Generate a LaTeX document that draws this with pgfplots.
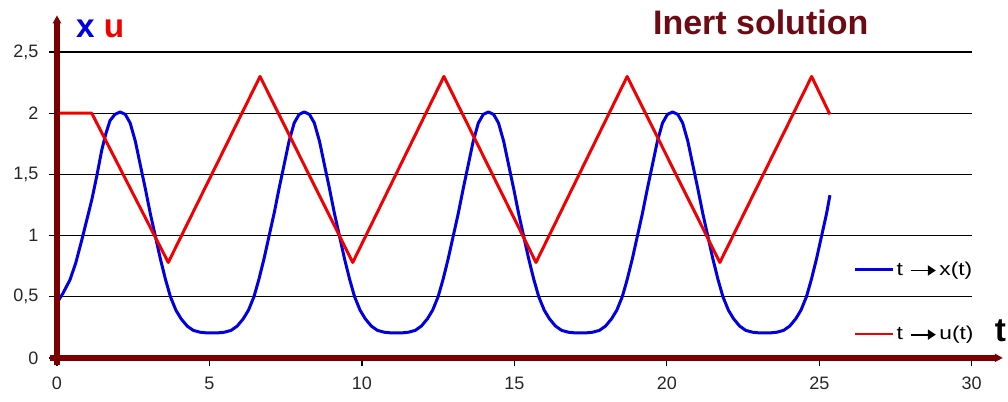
\documentclass[border=0pt]{standalone}
\usepackage{fontspec}
\setmainfont{Liberation Sans}
\newfontfamily\legfont[FakeStretch=1.22]{Liberation Sans}
\usepackage{pgfplots}
\usepackage{pgfplotstable}
\pgfplotsset{compat=1.18}
\usetikzlibrary{arrows.meta}
\definecolor{axred}{HTML}{7A0000}
\definecolor{titlered}{HTML}{6E0A14}
\definecolor{cblue}{HTML}{0000E0}
\definecolor{cred}{HTML}{F00000}
\newcommand\arr{\tikz[baseline=-3.75pt]\draw[black, line width=1.3pt,-{Triangle[length=6pt,width=7.5pt]}] (0,0)--(19pt,0);}

\pgfplotstableread{
t x
0 0.45
0.2 0.53
0.43 0.64
0.62 0.78
0.81 0.96
1.0 1.15
1.14 1.29
1.3 1.48
1.47 1.70
1.6 1.83
1.74 1.94
1.9 1.99
2.07 2.01
2.24 1.99
2.40 1.92
2.57 1.77
2.73 1.58
2.90 1.38
3.06 1.18
3.23 0.99
3.39 0.81
3.56 0.64
3.72 0.50
3.90 0.39
4.07 0.32
4.27 0.26
4.47 0.225
4.69 0.21
4.89 0.205
5.09 0.205
5.29 0.205
5.49 0.21
5.71 0.225
5.91 0.26
6.11 0.32
6.28 0.39
6.46 0.50
6.62 0.64
6.79 0.81
6.95 0.99
7.12 1.18
7.28 1.38
7.45 1.58
7.61 1.77
7.78 1.92
7.94 1.99
8.11 2.01
8.28 1.99
8.44 1.92
8.61 1.77
8.77 1.58
8.94 1.38
9.10 1.18
9.27 0.99
9.43 0.81
9.60 0.64
9.76 0.50
9.94 0.39
10.11 0.32
10.31 0.26
10.51 0.225
10.73 0.21
10.93 0.205
11.13 0.205
11.33 0.205
11.53 0.21
11.75 0.225
11.95 0.26
12.15 0.32
12.32 0.39
12.50 0.50
12.66 0.64
12.83 0.81
12.99 0.99
13.16 1.18
13.32 1.38
13.49 1.58
13.65 1.77
13.82 1.92
13.98 1.99
14.15 2.01
14.32 1.99
14.48 1.92
14.65 1.77
14.81 1.58
14.98 1.38
15.14 1.18
15.31 0.99
15.47 0.81
15.64 0.64
15.80 0.50
15.98 0.39
16.15 0.32
16.35 0.26
16.55 0.225
16.77 0.21
16.97 0.205
17.17 0.205
17.37 0.205
17.57 0.21
17.79 0.225
17.99 0.26
18.19 0.32
18.36 0.39
18.54 0.50
18.70 0.64
18.87 0.81
19.03 0.99
19.20 1.18
19.36 1.38
19.53 1.58
19.69 1.77
19.86 1.92
20.02 1.99
20.19 2.01
20.36 1.99
20.52 1.92
20.69 1.77
20.85 1.58
21.02 1.38
21.18 1.18
21.35 0.99
21.51 0.81
21.68 0.64
21.84 0.50
22.02 0.39
22.19 0.32
22.39 0.26
22.59 0.225
22.81 0.21
23.01 0.205
23.21 0.205
23.41 0.205
23.61 0.21
23.83 0.225
24.03 0.26
24.23 0.32
24.40 0.39
24.58 0.50
24.74 0.64
24.91 0.81
25.07 0.99
25.24 1.18
25.35 1.33
}\xdata

\pgfplotstableread{
t u
0 2.0
1.14 2.0
3.65 0.78
6.66 2.30
9.70 0.78
12.69 2.30
15.71 0.78
18.70 2.30
21.74 0.78
24.75 2.30
25.35 1.99
}\udata

\begin{document}
\begin{tikzpicture}
\begin{axis}[
  scale only axis, width=686.25pt, height=229.5pt,
  xmin=0, xmax=30, ymin=0, ymax=2.5,
  axis line style={draw=none},
  xtick={0,5,10,15,20,25,30},
  xticklabels={0,5,10,15,20,25,30},
  ytick={0,0.5,1,1.5,2,2.5},
  yticklabels={0,{0,5},1,{1,5},2,{2,5}},
  tick pos=left,
  tick align=outside,
  major tick length=6pt,
  ymajorgrids,
  grid style={black, line width=1pt},
  tick style={black, line width=1pt},
  tick label style={font=\fontsize{13.5}{16}\selectfont, text=black!85},
  xticklabel style={yshift=-5pt},
  yticklabel style={xshift=-4.5pt},
  clip=false,
  legend style={at={(axis cs:26.0,0.83)}, anchor=north west, draw=none, fill=none,
    font=\legfont\fontsize{14}{17}\selectfont, row sep=32.5pt, legend cell align=left},
  legend image code/.code={\draw[#1, line width=2pt] (0pt,0pt) -- (28pt,0pt);},
]
\addplot[cblue, line width=2.25pt, line join=round] table[x=t, y=x] {\xdata};
\addlegendentry{t\hspace{5pt}\arr\hspace{2pt}x(t)}
\addplot[cred, line width=2.25pt, line join=round] table[x=t, y=u] {\udata};
\addlegendentry{t\hspace{5pt}\arr\hspace{2pt}u(t)}

\draw[axred, line width=4pt, -{Triangle[length=6pt, width=6pt]}] (axis cs:-0.23,0) -- (axis cs:31.02,0);
\draw[axred, line width=4pt, -{Triangle[length=6pt, width=6pt]}] (axis cs:0,-0.06) -- (axis cs:0,2.80);

\node[anchor=base west, inner sep=0pt, font=\fontsize{25.5}{30}\selectfont\bfseries, text=titlered] at (axis cs:19.54,2.64) {Inert solution};
\node[anchor=base west, inner sep=0pt, font=\fontsize{25}{30}\selectfont\bfseries] at (axis cs:0.62,2.62) {\textcolor{cblue}{x} \textcolor{cred}{u}};
\node[anchor=base west, inner sep=0pt, font=\fontsize{25}{30}\selectfont\bfseries] at (axis cs:30.75,0.13) {t};

\coordinate (bl) at (axis cs:-1.869,-0.359);
\coordinate (tr) at (axis cs:31.19,2.925);
\end{axis}
\pgfresetboundingbox
\path (bl) rectangle (tr);
\end{tikzpicture}
\end{document}
